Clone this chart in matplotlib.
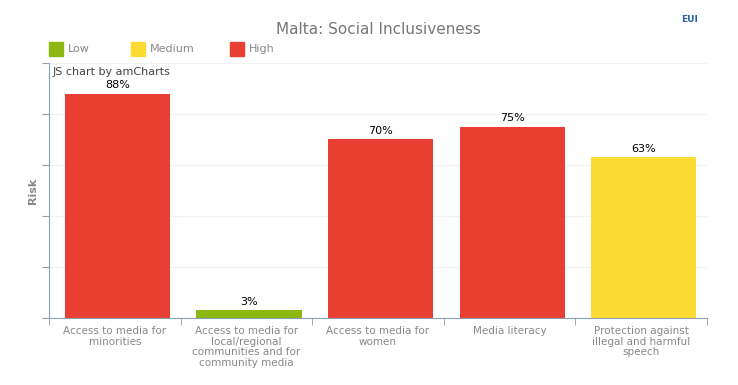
import numpy as np
import matplotlib.pyplot as plt
from matplotlib.patches import Rectangle

categories = [
    "Access to media for\nminorities",
    "Access to media for\nlocal/regional\ncommunities and for\ncommunity media",
    "Access to media for\nwomen",
    "Media literacy",
    "Protection against\nillegal and harmful\nspeech",
]
values = [88, 3, 70, 75, 63]
levels = ["High", "Low", "High", "High", "Medium"]

level_names = ["Low", "Medium", "High"]
level_colors = {"Low": "#8db812", "Medium": "#fbdb32", "High": "#e93f33"}

W, H = 738, 385
fig = plt.figure(figsize=(W / 100, H / 100), dpi=100)
ax = fig.add_axes([49 / W, 1 - 318 / H, (707 - 49) / W, (318 - 63) / H])

x = np.arange(len(categories))
bars = ax.bar(x + 0.02, values, width=0.8, color=[level_colors[l] for l in levels])
for xi, v in zip(x, values):
    ax.text(xi + 0.02, v + 1.5, f"{v}%", ha="center", va="bottom", fontsize=8, color="#000000")

ax.set_xlim(-0.5, len(categories) - 0.5)
ax.set_ylim(0, 100)
ax.set_yticks(np.arange(0, 101, 20))
ax.set_yticklabels([])
ax.tick_params(axis="y", length=5, color="#8aa0b3", direction="out")
ax.set_xticks(x)
ax.set_xticklabels(categories, fontsize=7.5, color="#888888", linespacing=1.05)
ax.tick_params(axis="x", length=0, pad=6)
ax.set_xticks(np.arange(-0.5, len(categories)), minor=True)
ax.tick_params(axis="x", which="minor", length=5, color="#8aa0b3", direction="out")
ax.grid(axis="y", color="#f2f2f2", linewidth=0.8)
ax.set_axisbelow(True)
for s in ["top", "right"]:
    ax.spines[s].set_visible(False)
for s in ["left", "bottom"]:
    ax.spines[s].set_color("#8aa0b3")
ax.set_ylabel("Risk", fontsize=8, color="#888888", fontweight="bold")
ax.yaxis.set_label_coords(-11 / (707 - 49), 0.5)

ax.text(0.006, 0.985, "JS chart by amCharts", transform=ax.transAxes,
        fontsize=8, color="#444444", va="top", ha="left")

fig.text(378 / W, 1 - 30 / H, "Malta: Social Inclusiveness", ha="center", va="center",
         fontsize=11, color="#777777")

# legend
lx = [49, 131, 230]
for name, px in zip(level_names, lx):
    fig.patches.append(Rectangle((px / W, 1 - 56 / H), 14 / W, 14 / H,
                                 transform=fig.transFigure, color=level_colors[name]))
    fig.text((px + 19) / W, 1 - 49 / H, name, ha="left", va="center",
             fontsize=8, color="#888888")

fig.text(690 / W, 1 - 19 / H, "EUI", ha="center", va="center", fontsize=6.5,
         color="#2a5ea8", fontweight="bold")

fig.savefig("out.png", dpi=100)
